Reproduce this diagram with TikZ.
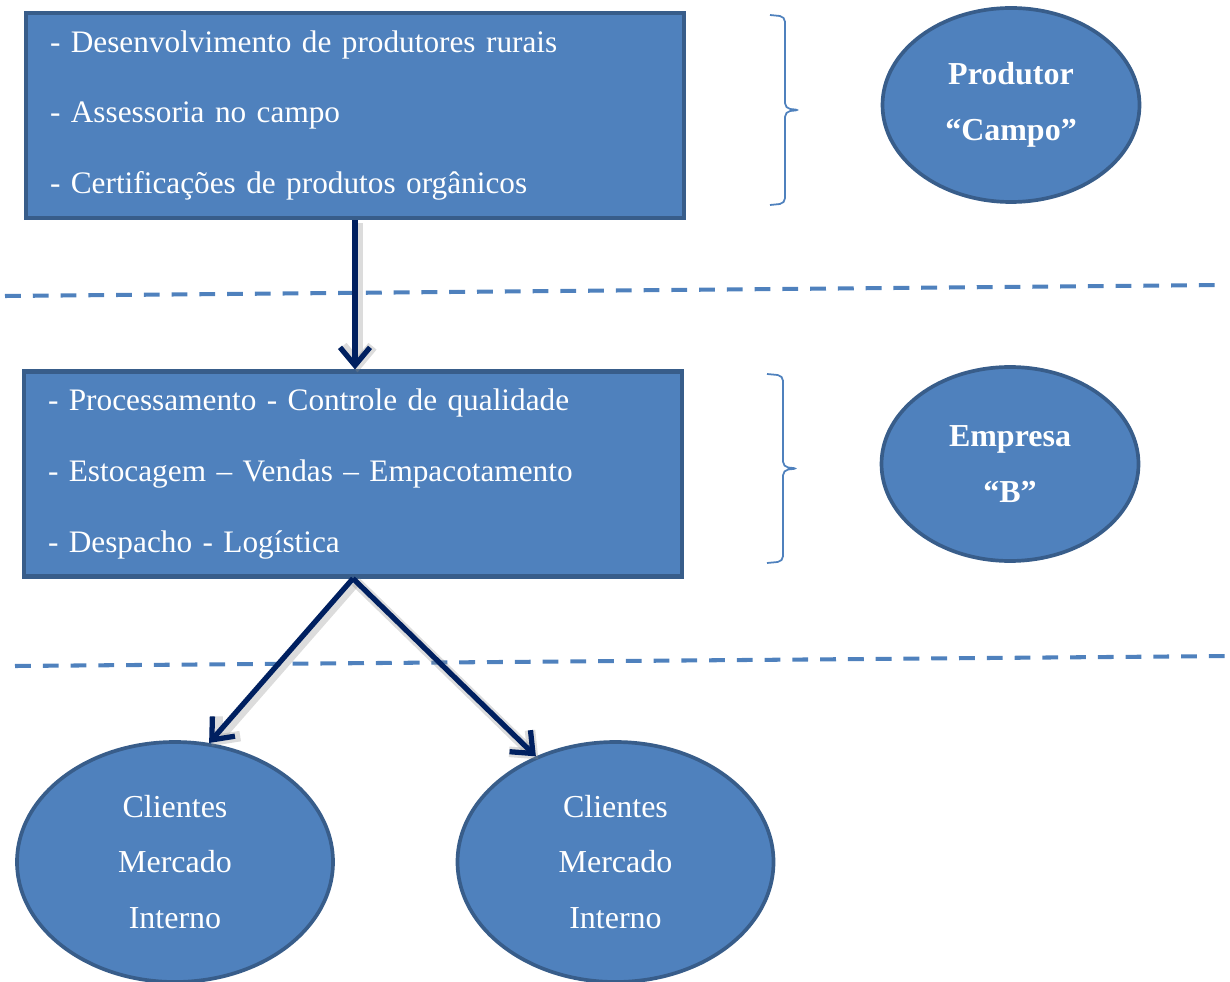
\documentclass[tikz,border=0pt]{standalone}
\usepackage{fontspec}
\setmainfont{Liberation Serif}
\usetikzlibrary{shapes.geometric,arrows.meta}
\definecolor{boxblue}{RGB}{79,129,189}
\definecolor{boxedge}{RGB}{56,93,138}
\definecolor{arrownavy}{RGB}{0,32,96}
\tikzset{
  listbox/.style={draw=boxedge, line width=2.3pt, fill=boxblue, text=white,
    minimum width=13.16cm, minimum height=4.1cm, text width=12.2cm,
    inner xsep=0.48cm, align=left, font=\fontsize{17.8}{40.3}\selectfont},
  rolebox/.style={ellipse, draw=boxedge, line width=2.1pt, fill=boxblue, text=white,
    minimum width=5.14cm, minimum height=3.88cm, align=center,
    font=\fontsize{18.2}{31.8}\selectfont\bfseries},
  clientbox/.style={ellipse, draw=boxedge, line width=2.1pt, fill=boxblue, text=white,
    minimum width=6.32cm, minimum height=4.8cm, align=center,
    font=\fontsize{18.2}{31.8}\selectfont},
  flow/.style={-{Straight Barb[length=0.36cm,width=0.6cm]}, line width=3pt, draw=arrownavy,
    preaction={draw=black!45, opacity=0.3, line width=6pt,
      transform canvas={shift={(0.05,-0.06)}}}},
  sepline/.style={draw=boxblue, line width=2.3pt, dash pattern=on 9pt off 6.8pt},
  grouping/.style={draw=boxblue, line width=1pt, rounded corners=3pt}
}
\begin{document}
\begin{tikzpicture}
  \useasboundingbox (0,0) rectangle (24.6,-19.64);

  % levels
  \draw[sepline] (0.1,-5.92) -- (24.5,-5.7);
  \draw[sepline] (0.3,-13.32) -- (24.6,-13.12);

  % activity boxes
  \node[listbox] (campo) at (7.1,-2.31) {- Desenvolvimento de produtores rurais\\
    - Assessoria no campo\\
    - Certificações de produtos orgânicos};
  \node[listbox] (empresa) at (7.06,-9.48) {- Processamento - Controle de qualidade\\
    - Estocagem -- Vendas -- Empacotamento\\
    - Despacho - Logística};

  % braces
  \draw[grouping] (15.4,-0.3) -- ++(0.3,-0.03) -- ++(0,-1.84) -- ++(0.3,-0.03)
    -- ++(-0.3,-0.03) -- ++(0,-1.84) -- ++(-0.3,-0.03);
  \draw[grouping] (15.34,-7.48) -- ++(0.32,-0.03) -- ++(0,-1.83) -- ++(0.3,-0.03)
    -- ++(-0.3,-0.03) -- ++(0,-1.83) -- ++(-0.32,-0.03);

  % actors
  \node[rolebox] (produtor) at (20.22,-2.1) {Produtor\\“Campo”};
  \node[rolebox] (empb) at (20.2,-9.28) {Empresa\\“B”};

  % clients
  \node[clientbox] (cli1) at (3.5,-17.24) {Clientes\\Mercado\\Interno};
  \node[clientbox] (cli2) at (12.31,-17.24) {Clientes\\Mercado\\Interno};

  % flow
  \draw[flow] (campo.south) -- (campo.south |- empresa.north);
  \draw[flow] (empresa.south) -- (cli1.74);
  \draw[flow] (empresa.south) -- (cli2.127);
\end{tikzpicture}
\end{document}
